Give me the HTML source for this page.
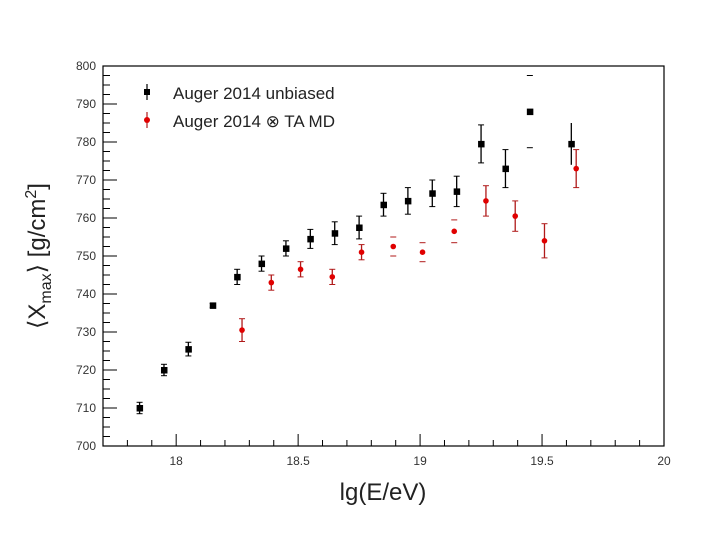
<!DOCTYPE html>
<html><head><meta charset="utf-8"><style>
body{margin:0;background:#fff;}
svg{display:block;font-family:"Liberation Sans",sans-serif;}
</style></head><body>
<svg id="c" width="720" height="540">
<rect x="0" y="0" width="720" height="540" fill="#fff"/>
</svg>
<script>
const blackX=[17.85,17.95,18.05,18.15,18.25,18.35,18.45,18.55,18.65,18.75,18.85,18.95,19.05,19.15,19.25,19.35,19.45,19.62];
const blackY=[710,720,725.5,737,744.5,748,752,754.5,756,757.5,763.5,764.5,766.5,767,779.5,773,788,779.5];
const blackErr=[1.5,1.5,1.8,0.5,2,2,2,2.5,3,3,3,3.5,3.5,4,5,5,9.5,5.5];
const redX=[18.27,18.39,18.51,18.64,18.76,18.89,19.01,19.14,19.27,19.39,19.51,19.64];
const redY=[730.5,743,746.5,744.5,751,752.5,751,756.5,764.5,760.5,754,773];
const redErr=[3,2,2,2,2,2.5,2.5,3,4,4,4.5,5];
const xTicks=[18,18.5,19,19.5,20];
const yTicks=[700,710,720,730,740,750,760,770,780,790,800];
// rendering quirks of the original image (which bars lack a stem / caps)
const blackNoStem=[16];
const blackNoCaps=[17];
const redNoStem=[5,6,7];

const svg=document.getElementById('c');
const NS='http://www.w3.org/2000/svg';
const L=103,R=664,T=66,B=446,X0=17.7,X1=20,Y0=700,Y1=800;
const sx=v=>L+(v-X0)/(X1-X0)*(R-L);
const sy=v=>B-(v-Y0)/(Y1-Y0)*(B-T);
function mk(tag,a,p){const e=document.createElementNS(NS,tag);for(const k in a)e.setAttribute(k,a[k]);(p||svg).appendChild(e);return e;}

const frame=mk('rect',{x:L,y:T,width:R-L,height:B-T,fill:'none',stroke:'#000','stroke-width':1.2});



const xa=mk('g',{});


for(let i=178;i<=200;i++){const v=i/10;
 const maj=Math.abs(v*2-Math.round(v*2))<1e-6;
 mk('line',{x1:sx(v),x2:sx(v),y1:B,y2:B-(maj?12:6),stroke:'#000','stroke-width':1},xa);}
xTicks.forEach(v=>{const t=mk('text',{x:sx(v),y:B+19,'text-anchor':'middle','font-size':12,fill:'#333'},xa);t.textContent=String(v);
 
 });

const ya=mk('g',{});


for(let v=700;v<=800;v+=2.5){const maj=v%10===0;
 mk('line',{x1:L,x2:L+(maj?14:7),y1:sy(v),y2:sy(v),stroke:'#000'},ya);}
yTicks.forEach(v=>{const t=mk('text',{x:L-7,y:sy(v)+4,'text-anchor':'end','font-size':12,fill:'#333'},ya);t.textContent=String(v);
 
 });

const xt=mk('text',{x:383,y:500,'text-anchor':'middle','font-size':24,fill:'#222'});
xt.textContent='lg(E/eV)';


const yt=mk('text',{transform:'translate(45,256) rotate(-90)','text-anchor':'middle','font-size':24,fill:'#222'});
yt.innerHTML='⟨X<tspan font-size="16" dy="6">max</tspan><tspan dy="-6">⟩ [g/cm</tspan><tspan font-size="16" dy="-9">2</tspan><tspan dy="9">]</tspan>';



function series(xs,ys,es,color,barColor,name,square,noStem,noCaps){
 const g=mk('g',{});
 
 
 xs.forEach((x,i)=>{const cx=sx(x),cy=sy(ys[i]),e=es[i];
  const pt=mk('g',{},g);
  
  
  if(!noStem.includes(i))mk('line',{x1:cx,x2:cx,y1:sy(ys[i]+e),y2:sy(ys[i]-e),stroke:barColor,'stroke-width':1.3},pt);
  if(!noCaps.includes(i)){
   mk('line',{x1:cx-3,x2:cx+3,y1:sy(ys[i]+e),y2:sy(ys[i]+e),stroke:barColor},pt);
   mk('line',{x1:cx-3,x2:cx+3,y1:sy(ys[i]-e),y2:sy(ys[i]-e),stroke:barColor},pt);}
  if(square)mk('rect',{x:cx-3,y:cy-3,width:6.5,height:6.5,fill:color},pt);
  else mk('circle',{cx:cx,cy:cy,r:2.8,fill:color},pt);});
}
series(blackX,blackY,blackErr,'#000','#000','auger-unbiased-series',true,blackNoStem,blackNoCaps);
series(redX,redY,redErr,'#e00000','#b01a1a','auger-ta-md-series',false,redNoStem,[]);

const lg=mk('g',{});


const e1=mk('g',{},lg);


mk('line',{x1:147,x2:147,y1:84,y2:100,stroke:'#000','stroke-width':1.2},e1);
mk('rect',{x:144,y:89,width:6,height:6,fill:'#000'},e1);
const t1=mk('text',{x:173,y:99,'font-size':17,fill:'#222'},e1);t1.textContent='Auger 2014 unbiased';
const e2=mk('g',{},lg);


mk('line',{x1:147,x2:147,y1:112,y2:128,stroke:'#b01a1a','stroke-width':1.2},e2);
mk('circle',{cx:147,cy:120,r:3,fill:'#e00000'},e2);
const t2=mk('text',{x:173,y:127,'font-size':17,fill:'#222'},e2);t2.textContent='Auger 2014 ⊗ TA MD';
</script>
</body></html>
